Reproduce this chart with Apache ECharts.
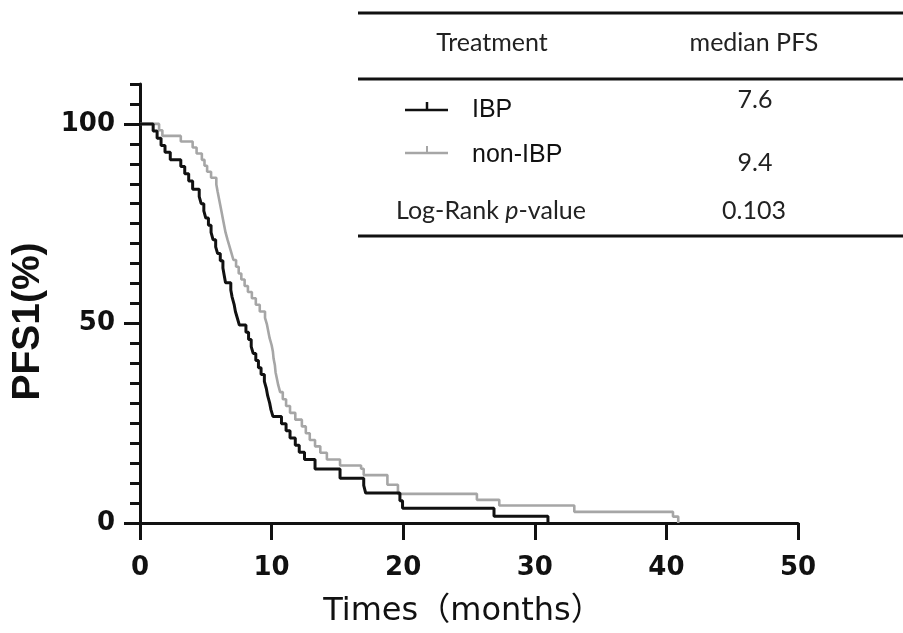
<!DOCTYPE html>
<html>
<head>
<meta charset="utf-8">
<script src="https://cdn.jsdelivr.net/npm/echarts@6/dist/echarts.min.js"></script>
<style>
  html, body { margin: 0; padding: 0; background: #fff; }
  #main { width: 903px; height: 633px; }
</style>
</head>
<body>
<div id="main"></div>
<script>
// KM curves: time (months) and survival (%)
var timesIBP = [0, 1.0, 1.3, 1.6, 1.9, 2.3, 3.1, 3.4, 3.7, 4.0, 4.5, 4.65, 4.85, 5.0, 5.2, 5.4, 5.55, 5.75, 5.9, 6.1, 6.3,
  6.4, 6.5, 6.9, 7.0, 7.15, 7.25, 7.4, 7.55, 8.05, 8.25, 8.45, 8.6, 8.8, 9.0, 9.2, 9.45, 9.6, 9.7, 9.85, 9.95, 10.1,
  10.75, 11.1, 11.4, 11.8, 12.1, 12.5, 13.3, 15.2, 17.0, 17.15, 19.75, 19.95, 26.9, 31.0];
var survIBP = [100, 98.2, 96.4, 94.6, 92.9, 91.0, 89.3, 87.5, 85.7, 83.6, 81.8, 80.0, 78.2, 76.4, 74.6, 72.8, 71.0, 69.2, 67.5, 65.7, 63.9,
  62.0, 60.2, 58.4, 56.6, 54.8, 53.0, 51.3, 49.6, 47.8, 46.0, 44.2, 42.5, 40.7, 38.9, 37.2, 35.5, 33.7, 31.9, 30.1, 28.4, 26.7,
  24.9, 23.1, 21.3, 19.5, 17.7, 15.9, 13.5, 11.2, 9.4, 7.5, 5.6, 3.7, 1.7, 0];

var timesNon = [0, 1.45, 1.7, 3.1, 4.0, 4.3, 4.7, 4.9, 5.1, 5.4, 5.8, 5.9, 6.0, 6.1, 6.2, 6.3, 6.4, 6.5, 6.65, 6.8, 6.95,
  7.1, 7.3, 7.5, 7.7, 7.95, 8.2, 8.5, 8.8, 9.1, 9.5, 9.65, 9.75, 9.85, 10.0, 10.1, 10.15, 10.25, 10.3, 10.4, 10.5,
  10.65, 10.85, 11.1, 11.4, 11.8, 12.3, 12.6, 12.9, 13.3, 13.7, 14.2, 15.2, 16.8, 17.0, 18.8, 19.6, 25.6, 27.3, 33.0, 40.5, 40.9];
var survNon = [100, 98.4, 97.0, 95.6, 94.1, 92.6, 91.0, 89.5, 88.0, 86.5, 84.8, 83.0, 81.3, 79.6, 77.9, 76.2, 74.5, 72.8, 71.0, 69.3, 67.6,
  65.9, 64.2, 62.5, 61.0, 59.4, 57.9, 56.3, 54.7, 53.0, 51.4, 49.7, 48.0, 46.3, 44.6, 42.9, 41.2, 39.5, 37.8, 36.2, 34.6,
  32.8, 31.0, 29.3, 27.6, 25.9, 24.2, 22.5, 20.8, 19.2, 17.6, 15.9, 14.4, 13.6, 12.0, 9.6, 7.3, 5.8, 4.4, 2.8, 1.6, 0];

// table at top right
var groups = ['IBP', 'non-IBP'];
var medianPFS = ['7.6', '9.4'];
var pValue = '0.103';
var yTicks = [0, 50, 100];

function pairs(t, s) {
  return t.map(function (v, i) { return [v, s[i]]; });
}

var black = '#111111';
var gray = '#a6a6a6';
var tableFont = '25px Lato';

var chart = echarts.init(document.getElementById('main'));

var option = {
  animation: false,
  backgroundColor: '#fff',
  grid: { left: 140, right: 105, top: 84, bottom: 109, containLabel: false },
  xAxis: {
    type: 'value', min: 0, max: 50, interval: 10,
    name: 'Times（months）', nameLocation: 'middle', nameGap: 73,
    nameTextStyle: { fontFamily: 'DejaVu Sans, Noto Sans CJK SC', fontSize: 32, color: '#111', padding: [0, 12, 0, 0] },
    axisLine: { lineStyle: { color: black, width: 3 } },
    axisTick: { length: 17, lineStyle: { color: black, width: 3 } },
    axisLabel: { margin: 32, fontFamily: 'DejaVu Sans', fontWeight: 'bold', fontSize: 26, color: '#111' },
    splitLine: { show: false }
  },
  yAxis: [{
    type: 'value', min: 0, max: 110, interval: 5, position: 'left',
    name: 'PFS1(%)', nameLocation: 'middle', nameGap: 92, nameRotate: 90,
    nameTextStyle: { fontFamily: 'Liberation Sans, Arial', fontWeight: 'bold', fontSize: 39, color: '#111', padding: [0, 36, 0, 0] },
    axisLine: { lineStyle: { color: black, width: 3 } },
    axisTick: { length: 10, lineStyle: { color: black, width: 3 } },
    axisLabel: { show: false },
    splitLine: { show: false }
  }, {
    type: 'value', min: 0, max: 110, interval: 5, position: 'left', offset: 0,
    axisLine: { show: false },
    axisTick: { length: 16, customValues: yTicks, lineStyle: { color: black, width: 3 } },
    axisLabel: { margin: 25, customValues: yTicks, fontFamily: 'DejaVu Sans', fontWeight: 'bold', fontSize: 26, color: '#111' },
    splitLine: { show: false }
  }],
  series: [{
    name: groups[1], type: 'line', step: 'end', symbol: 'none',
    lineStyle: { color: gray, width: 2.6 }, itemStyle: { color: gray },
    data: pairs(timesNon, survNon)
  }, {
    name: groups[0], type: 'line', step: 'end', symbol: 'none',
    lineStyle: { color: black, width: 3 }, itemStyle: { color: black },
    data: pairs(timesIBP, survIBP)
  }],
  graphic: [
    // table rules
    { type: 'line', shape: { x1: 358, y1: 13, x2: 903, y2: 13 }, style: { stroke: black, lineWidth: 3 } },
    { type: 'line', shape: { x1: 358, y1: 79, x2: 903, y2: 79 }, style: { stroke: black, lineWidth: 3 } },
    { type: 'line', shape: { x1: 358, y1: 236, x2: 903, y2: 236 }, style: { stroke: black, lineWidth: 3 } },
    // header
    { type: 'text', style: { x: 492, y: 43, text: 'Treatment', font: tableFont, fill: '#222', align: 'center', verticalAlign: 'middle' } },
    { type: 'text', style: { x: 754, y: 43, text: 'median PFS', font: tableFont, fill: '#222', align: 'center', verticalAlign: 'middle' } },
    // legend keys
    { type: 'line', shape: { x1: 405, y1: 110, x2: 448, y2: 110 }, style: { stroke: black, lineWidth: 2.5 } },
    { type: 'line', shape: { x1: 427, y1: 102, x2: 427, y2: 110 }, style: { stroke: black, lineWidth: 2.5 } },
    { type: 'line', shape: { x1: 405, y1: 153, x2: 448, y2: 153 }, style: { stroke: gray, lineWidth: 2.5 } },
    { type: 'line', shape: { x1: 427, y1: 146, x2: 427, y2: 153 }, style: { stroke: gray, lineWidth: 2 } },
    { type: 'text', style: { x: 472, y: 110, text: groups[0], font: '25px Liberation Sans', fill: '#111', align: 'left', verticalAlign: 'middle' } },
    { type: 'text', style: { x: 472, y: 155, text: groups[1], font: '25px Liberation Sans', fill: '#111', align: 'left', verticalAlign: 'middle' } },
    { type: 'text', style: { x: 755, y: 100, text: medianPFS[0], font: tableFont, fill: '#222', align: 'center', verticalAlign: 'middle' } },
    { type: 'text', style: { x: 755, y: 163, text: medianPFS[1], font: tableFont, fill: '#222', align: 'center', verticalAlign: 'middle' } },
    {
      type: 'text',
      style: {
        x: 491, y: 211, align: 'center', verticalAlign: 'middle',
        text: '{n|Log-Rank }{i|p}{n|-value}',
        rich: {
          n: { fontFamily: 'Lato', fontSize: 25, fill: '#222' },
          i: { fontFamily: 'Lato', fontSize: 25, fontStyle: 'italic', fill: '#222' }
        }
      }
    },
    { type: 'text', style: { x: 754, y: 211, text: pValue, font: tableFont, fill: '#222', align: 'center', verticalAlign: 'middle' } }
  ]
};

chart.setOption(option);
</script>
</body>
</html>
